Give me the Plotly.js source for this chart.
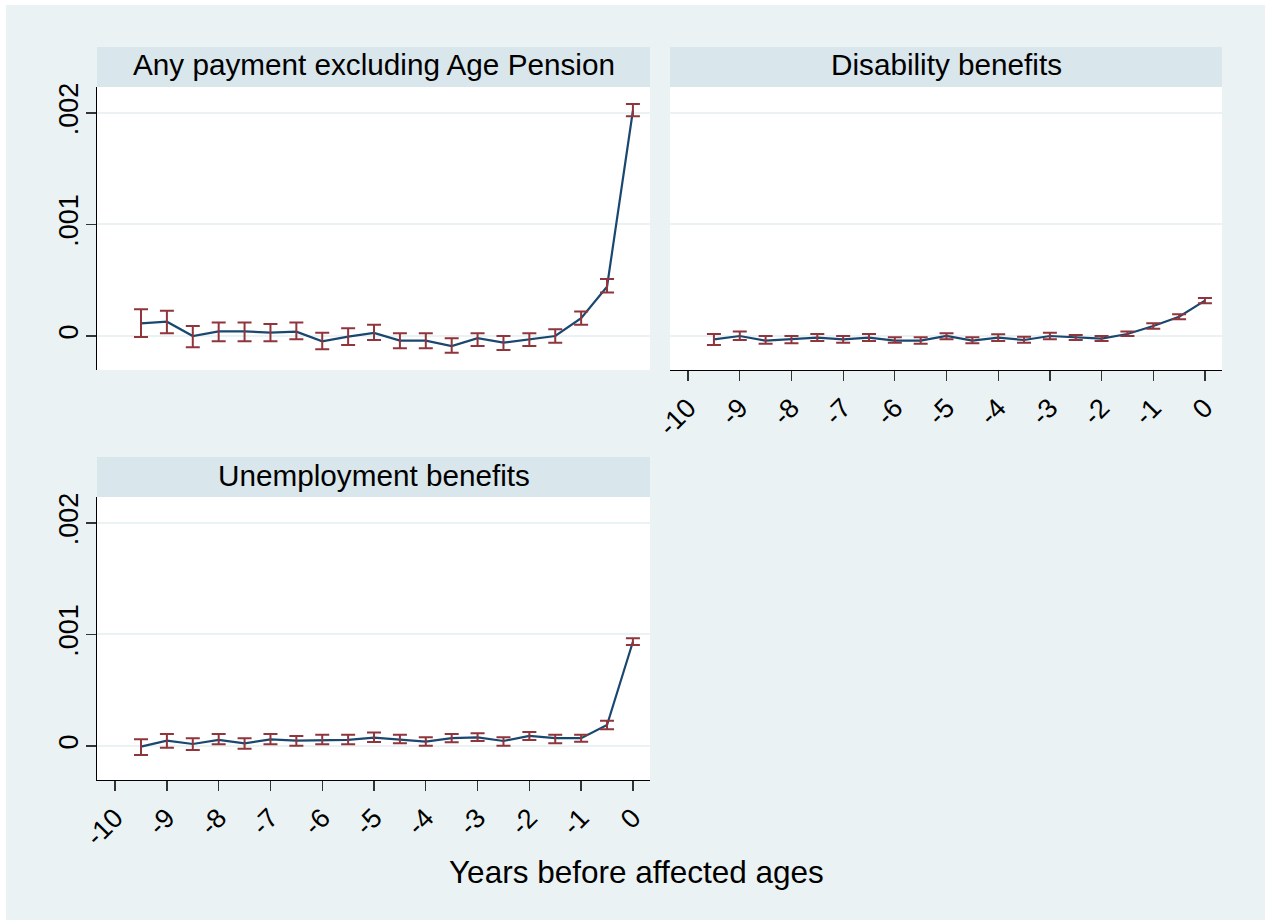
<!DOCTYPE html>
<html>
<head>
<meta charset="utf-8">
<script src="https://cdn.plot.ly/plotly-3.0.1.min.js"></script>
<style>
  html, body { margin: 0; padding: 0; background: #ffffff; }
  #chart { position: absolute; left: 6px; top: 5px; width: 1259px; height: 915px; }
</style>
</head>
<body>
<div id="chart"></div>
<script>
// ---- Data ----
const years = [-9.5, -9, -8.5, -8, -7.5, -7, -6.5, -6, -5.5, -5, -4.5, -4, -3.5, -3, -2.5, -2, -1.5, -1, -0.5, 0];

const panelTitles = ["Any payment excluding Age Pension", "Disability benefits", "Unemployment benefits"];

const anyEst = [0.000114, 0.000128, 0.0, 0.000042, 0.000042, 0.00003, 0.000039, -0.000048, -0.000006, 0.000028, -0.000042, -0.000042, -0.00009, -0.00002, -0.00006, -0.000027, 0.0, 0.000159, 0.000442, 0.00202];
const anyLo  = [-0.00001, 0.000024, -0.0001, -0.000048, -0.000048, -0.000048, -0.00003, -0.00012, -0.00008, -0.000036, -0.00011, -0.00011, -0.00015, -0.00009, -0.000125, -0.00009, -0.00006, 0.0001, 0.00039, 0.00197];
const anyHi  = [0.00024, 0.000227, 0.00009, 0.00012, 0.00012, 0.000108, 0.00012, 0.00003, 0.00007, 0.0001, 0.000024, 0.000024, -0.00002, 0.000024, 0.0, 0.000024, 0.00006, 0.00022, 0.00051, 0.00208];

const disEst = [-0.00003, 0.0, -0.000042, -0.00003, -0.000015, -0.00003, -0.000015, -0.000042, -0.000042, 0.0, -0.000042, -0.000015, -0.000036, 0.0, -0.000012, -0.000024, 0.000018, 0.00009, 0.000173, 0.000317];
const disLo  = [-0.00008, -0.000036, -0.00007, -0.000066, -0.000045, -0.00006, -0.000045, -0.00006, -0.00007, -0.00003, -0.000066, -0.000045, -0.00006, -0.00003, -0.000036, -0.000045, 0.0, 0.000066, 0.00015, 0.000293];
const disHi  = [0.000018, 0.00004, 0.0, 0.0, 0.000018, 0.0, 0.000018, -0.000012, -0.000012, 0.000024, -0.000012, 0.000015, -0.000006, 0.00003, 0.000009, 0.0, 0.00004, 0.000114, 0.000195, 0.00034];

const unEst = [-0.000006, 0.000048, 0.000018, 0.000054, 0.000024, 0.00006, 0.000048, 0.000054, 0.000054, 0.000075, 0.00006, 0.000039, 0.00007, 0.000078, 0.000045, 0.00009, 0.00007, 0.00007, 0.000188, 0.000935];
const unLo  = [-0.00008, -0.000015, -0.000036, 0.000015, -0.000024, 0.000015, 0.000003, 0.000015, 0.000015, 0.000036, 0.000024, 0.000003, 0.000033, 0.000045, 0.000003, 0.000054, 0.000024, 0.000039, 0.00015, 0.000906];
const unHi  = [0.00006, 0.000108, 0.00007, 0.000108, 0.00007, 0.000108, 0.00009, 0.0001, 0.0001, 0.00012, 0.0001, 0.000078, 0.000108, 0.000114, 0.000078, 0.000126, 0.0001, 0.0001, 0.000227, 0.000966];

const xTickVals = [-10, -9, -8, -7, -6, -5, -4, -3, -2, -1, 0];
const xTickText = ["-10", "-9", "-8", "-7", "-6", "-5", "-4", "-3", "-2", "-1", "0"];
const yTickVals = [0, 0.001, 0.002];
const yTickText = ["0", ".001", ".002"];
const xAxisTitle = "Years before affected ages";

// ---- Styling / layout ----
const W = 1259, H = 915, OX = 6, OY = 5;
const FONT = "Liberation Sans, Arial, Helvetica, sans-serif";
const LINE = "#1a476f", CAP = "#90353b", BG = "#eaf2f3", STRIP = "#d9e6eb";
const px = x => (x - OX) / W;
const py = y => 1 - (y - OY) / H;

// panel pixel boxes [x0, x1, yTop, yBottom] in image coords
const boxes = [
  [97, 650, 87, 370],
  [670, 1222, 87, 370],
  [97, 650, 497, 780]
];
const stripH = 40;

const series = [
  [anyEst, anyLo, anyHi],
  [disEst, disLo, disHi],
  [unEst, unLo, unHi]
];

const traces = [];
series.forEach((s, i) => {
  const [est, lo, hi] = s;
  const xa = i === 0 ? "x" : "x" + (i + 1);
  const ya = i === 0 ? "y" : "y" + (i + 1);
  traces.push({
    x: years, y: est, xaxis: xa, yaxis: ya, type: "scatter", mode: "lines",
    line: { color: LINE, width: 2.2 }, hoverinfo: "skip", showlegend: false
  });
  traces.push({
    x: years, y: est, xaxis: xa, yaxis: ya, type: "scatter", mode: "markers",
    marker: { size: 1, opacity: 0 }, showlegend: false, hoverinfo: "skip",
    error_y: {
      type: "data", symmetric: false,
      array: hi.map((h, k) => h - est[k]),
      arrayminus: lo.map((l, k) => est[k] - l),
      color: CAP, thickness: 2, width: 7
    }
  });
});

const xRange = [-10.35, 0.33];
const yRange = [-0.000305, 0.002233];

function xaxis(i, show) {
  const b = boxes[i];
  return {
    domain: [px(b[0]), px(b[1])], range: xRange, anchor: i === 0 ? "y" : "y" + (i + 1),
    showgrid: false, zeroline: false,
    showline: show, linecolor: "#000000", linewidth: 1.3,
    ticks: show ? "outside" : "", ticklen: 10, tickwidth: 1.3, tickcolor: "#333333",
    tickmode: "array", tickvals: xTickVals, ticktext: xTickText,
    showticklabels: show, tickangle: -45,
    tickfont: { family: FONT, size: 27, color: "#000000" }
  };
}
function yaxis(i, show) {
  const b = boxes[i];
  return {
    domain: [py(b[3]), py(b[2])], range: yRange, anchor: i === 0 ? "x" : "x" + (i + 1),
    showgrid: true, gridcolor: BG, gridwidth: 2, zeroline: false,
    showline: show, linecolor: "#000000", linewidth: 1.3,
    ticks: show ? "outside" : "", ticklen: 10, tickwidth: 1.3, tickcolor: "#333333",
    tickmode: "array", tickvals: yTickVals, ticktext: yTickText,
    showticklabels: show, tickangle: -90, ticklabelstandoff: -3,
    tickfont: { family: FONT, size: 27, color: "#000000" }
  };
}

const shapes = [];
const annotations = [];
boxes.forEach((b, i) => {
  shapes.push({
    type: "rect", xref: "paper", yref: "paper", layer: "below",
    x0: px(b[0]), x1: px(b[1]), y0: py(b[2]), y1: py(b[2] - stripH),
    fillcolor: STRIP, line: { width: 0 }
  });
  annotations.push({
    xref: "paper", yref: "paper", x: (px(b[0]) + px(b[1])) / 2, y: py(b[2] - stripH / 2 - 2),
    xanchor: "center", yanchor: "middle", showarrow: false,
    text: panelTitles[i], font: { family: FONT, size: 29.7, color: "#000000" }
  });
});
annotations.push({
  xref: "paper", yref: "paper", x: px(636), y: py(872), xanchor: "center", yanchor: "middle",
  showarrow: false, text: xAxisTitle, font: { family: FONT, size: 31.5, color: "#000000" }
});

const layout = {
  width: W, height: H,
  margin: { l: 0, r: 0, t: 0, b: 0, pad: 0, autoexpand: false },
  paper_bgcolor: BG, plot_bgcolor: "#ffffff",
  showlegend: false,
  xaxis: xaxis(0, false), yaxis: yaxis(0, true),
  xaxis2: xaxis(1, true), yaxis2: yaxis(1, false),
  xaxis3: xaxis(2, true), yaxis3: yaxis(2, true),
  shapes: shapes, annotations: annotations,
  font: { family: FONT }
};

Plotly.newPlot("chart", traces, layout, { displayModeBar: false, staticPlot: true });
</script>
</body>
</html>
